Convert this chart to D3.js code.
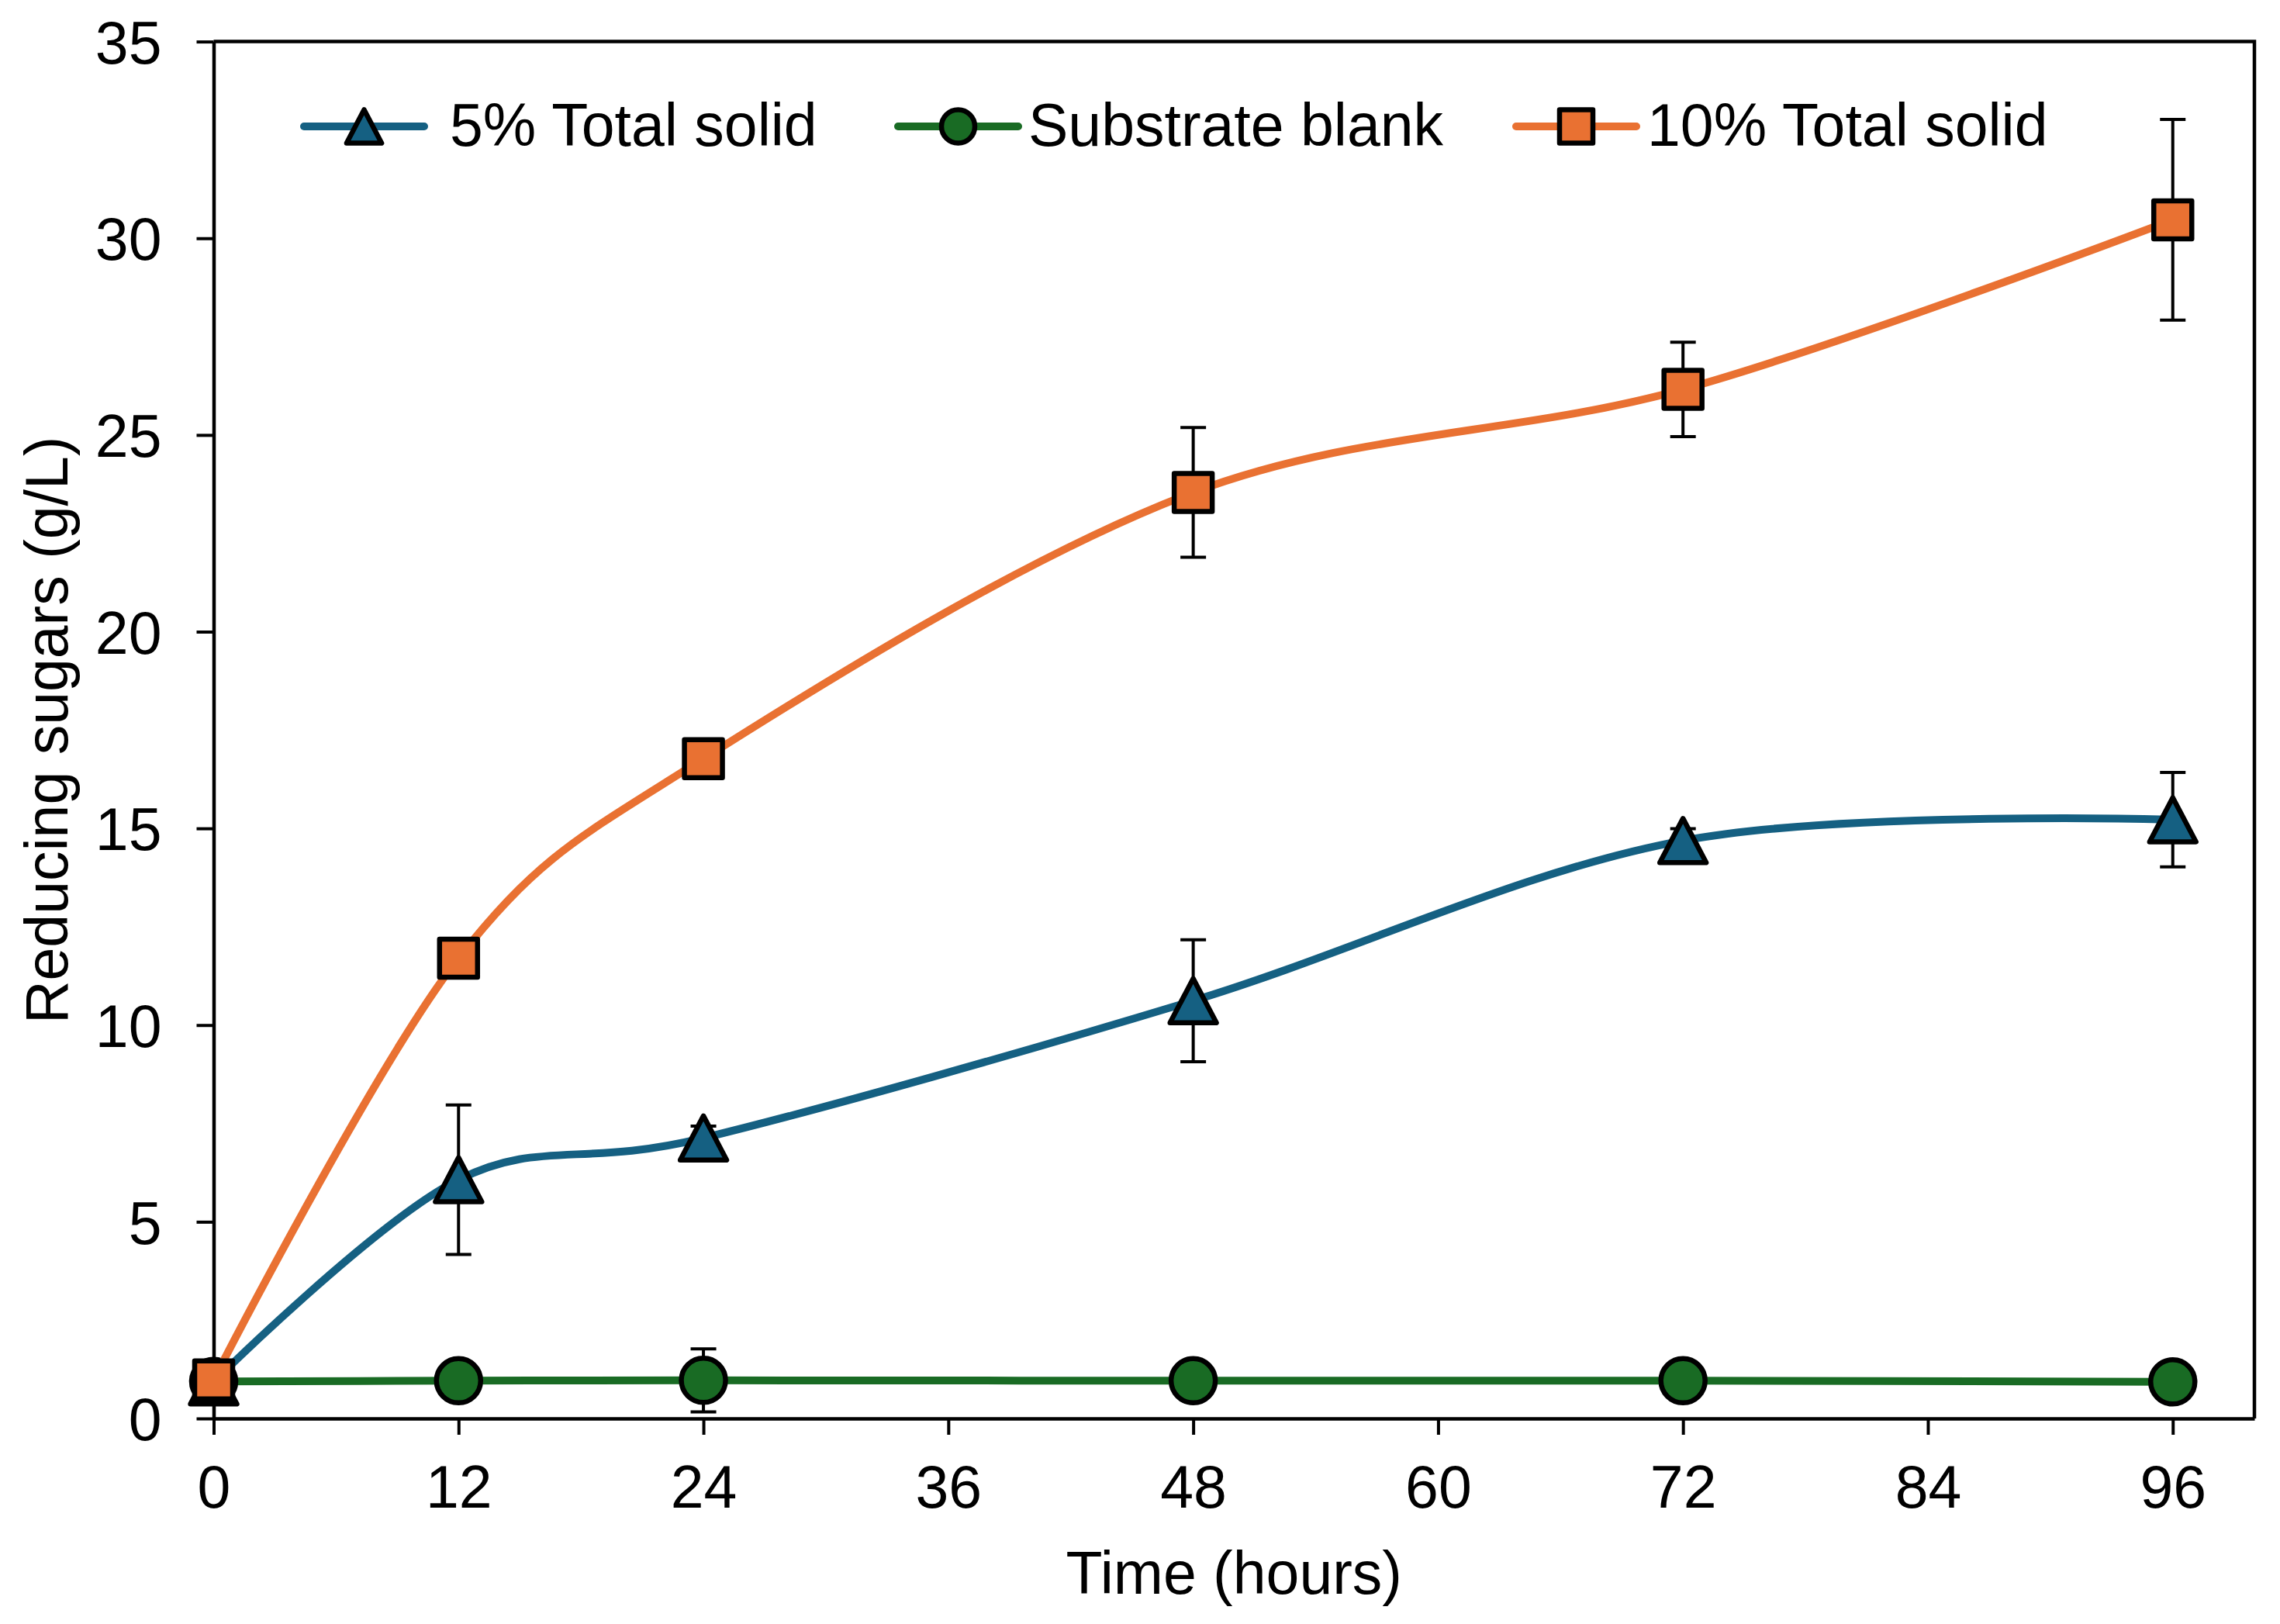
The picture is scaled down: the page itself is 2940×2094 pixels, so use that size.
<!DOCTYPE html>
<html>
<head>
<meta charset="utf-8">
<script src="https://cdn.jsdelivr.net/npm/d3@7"></script>
<style>
  body { margin: 0; background: #fff; }
  text { font-family: "Liberation Sans", Arial, sans-serif; fill: #000; }
</style>
</head>
<body>
<svg id="chart" width="2940" height="2094"></svg>
<script>
// data
var hours = [0, 12, 24, 48, 72, 96];
var xTicks = [0, 12, 24, 36, 48, 60, 72, 84, 96];
var yTicks = [0, 5, 10, 15, 20, 25, 30, 35];

var seriesNames = ['5% Total solid', 'Substrate blank', '10% Total solid'];
var seriesColors = ['#156082', '#196B24', '#E97132'];
var seriesSymbols = ['triangle', 'circle', 'square'];

var fivePct = [0.93, 6.07, 7.13, 10.62, 14.69, 15.22];
var fivePctErr = [0.1, 1.9, 0.3, 1.55, 0.3, 1.2];

var blank = [0.94, 0.96, 0.97, 0.96, 0.96, 0.93];
var blankErr = [0.05, 0.05, 0.8, 0.05, 0.05, 0.05];

var tenPct = [0.98, 11.7, 16.77, 23.54, 26.16, 30.47];
var tenPctErr = [0.1, 0.3, 0.3, 1.65, 1.2, 2.55];

var allValues = [fivePct, blank, tenPct];
var allErrors = [fivePctErr, blankErr, tenPctErr];

var fontSize = 77;

var svg = d3.select('#chart');

var xScale = d3.scaleLinear()
  .domain([0, 100])
  .range([275.5, 2907]);

var yScale = d3.scaleLinear()
  .domain([0, 35])
  .range([1829, 53.6]);

var left = xScale.range()[0], right = xScale.range()[1];
var top_ = yScale.range()[1], bottom = yScale.range()[0];

// marker path builders, centred on 0,0
function markerPath(type, size) {
  var h = size / 2;
  if (type == 'triangle') {
    return 'M0,' + (-h) + 'L' + (h * 1.05) + ',' + h + 'L' + (-h * 1.05) + ',' + h + 'Z';
  } else if (type == 'square') {
    return 'M' + (-h) + ',' + (-h) + 'H' + h + 'V' + h + 'H' + (-h) + 'Z';
  } else {
    return 'M' + h + ',0A' + h + ',' + h + ' 0 1,1 ' + (-h) + ',0A' + h + ',' + h + ' 0 1,1 ' + h + ',0Z';
  }
}
var markerSize = { triangle: 57, square: 49, circle: 57 };

// axes
var yAxis = svg.append('g')
  .attr('transform', 'translate(' + left + ',0)')
  .call(d3.axisLeft(yScale).tickValues(yTicks).tickSize(22).tickSizeOuter(0).tickPadding(45));

var xAxis = svg.append('g')
  .attr('transform', 'translate(0,' + bottom + ')')
  .call(d3.axisBottom(xScale).tickValues(xTicks).tickSize(21).tickSizeOuter(0).tickPadding(39));

[yAxis, xAxis].forEach(function(ax) {
  ax.select('.domain').attr('stroke', '#000').attr('stroke-width', 4.5);
  ax.selectAll('.tick line').attr('stroke', '#000').attr('stroke-width', 4);
  ax.selectAll('.tick text')
    .attr('font-size', fontSize)
    .attr('font-family', '"Liberation Sans", Arial, sans-serif')
    .attr('fill', '#000');
});
yAxis.selectAll('.tick text').attr('dy', '0.36em');

// top and right frame
svg.append('path')
  .attr('d', 'M' + left + ',' + top_ + 'H' + right + 'V' + bottom)
  .attr('fill', 'none')
  .attr('stroke', '#000')
  .attr('stroke-width', 4.5);

// axis titles
svg.append('text')
  .attr('x', (left + right) / 2)
  .attr('y', 2055)
  .attr('text-anchor', 'middle')
  .attr('font-size', fontSize)
  .text('Time (hours)');

svg.append('text')
  .attr('transform', 'translate(87,' + ((top_ + bottom) / 2) + ') rotate(-90)')
  .attr('text-anchor', 'middle')
  .attr('font-size', fontSize)
  .text('Reducing sugars (g/L)');

// series
var line = d3.line()
  .curve(d3.curveCardinal.tension(0))
  .x(function(d) { return xScale(d.x); })
  .y(function(d) { return yScale(d.y); });

for (var s = 0; s < allValues.length; s++) {
  var pts = hours.map(function(h, i) {
    return { x: h, y: allValues[s][i], e: allErrors[s][i] };
  });
  var g = svg.append('g').attr('class', 'series-' + s);

  // error bars
  var eb = g.selectAll('.err')
    .data(pts)
    .join('g')
    .attr('class', 'err')
    .attr('stroke', '#000')
    .attr('stroke-width', 4);
  eb.append('line')
    .attr('x1', function(d) { return xScale(d.x); })
    .attr('x2', function(d) { return xScale(d.x); })
    .attr('y1', function(d) { return yScale(d.y + d.e); })
    .attr('y2', function(d) { return yScale(d.y - d.e); });
  eb.append('line')
    .attr('x1', function(d) { return xScale(d.x) - 16.5; })
    .attr('x2', function(d) { return xScale(d.x) + 16.5; })
    .attr('y1', function(d) { return yScale(d.y + d.e); })
    .attr('y2', function(d) { return yScale(d.y + d.e); });
  eb.append('line')
    .attr('x1', function(d) { return xScale(d.x) - 16.5; })
    .attr('x2', function(d) { return xScale(d.x) + 16.5; })
    .attr('y1', function(d) { return yScale(d.y - d.e); })
    .attr('y2', function(d) { return yScale(d.y - d.e); });

  g.append('path')
    .datum(pts)
    .attr('fill', 'none')
    .attr('stroke', seriesColors[s])
    .attr('stroke-width', 10)
    .attr('d', line);

  g.selectAll('.mark')
    .data(pts)
    .join('path')
    .attr('class', 'mark')
    .attr('transform', function(d) { return 'translate(' + xScale(d.x) + ',' + yScale(d.y) + ')'; })
    .attr('d', markerPath(seriesSymbols[s], markerSize[seriesSymbols[s]]))
    .attr('fill', seriesColors[s])
    .attr('stroke', '#000')
    .attr('stroke-width', 6.5)
    .attr('stroke-linejoin', 'round');
}

// legend
var legendX = [[392, 547, 580], [1158, 1313, 1326], [1955, 2110, 2124]];
var legendY = 163;
var lg = svg.append('g').attr('class', 'legend');
seriesNames.forEach(function(name, i) {
  var lx = legendX[i];
  lg.append('line')
    .attr('x1', lx[0]).attr('x2', lx[1])
    .attr('y1', legendY).attr('y2', legendY)
    .attr('stroke', seriesColors[i])
    .attr('stroke-width', 10)
    .attr('stroke-linecap', 'round');
  lg.append('path')
    .attr('transform', 'translate(' + ((lx[0] + lx[1]) / 2) + ',' + legendY + ')')
    .attr('d', markerPath(seriesSymbols[i], 43))
    .attr('fill', seriesColors[i])
    .attr('stroke', '#000')
    .attr('stroke-width', 6.5)
    .attr('stroke-linejoin', 'round');
  lg.append('text')
    .attr('x', lx[2])
    .attr('y', 188)
    .attr('font-size', fontSize)
    .text(name);
});
</script>
</body>
</html>
